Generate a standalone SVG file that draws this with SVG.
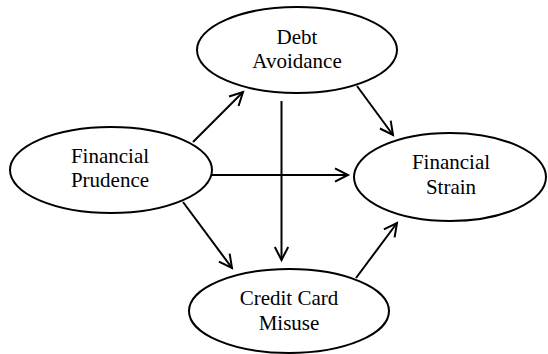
<svg xmlns="http://www.w3.org/2000/svg" width="548" height="354" viewBox="0 0 548 354">
<style>
.node ellipse{fill:#fff;stroke:#000;stroke-width:2}
.node text{font-family:"Liberation Serif","Times New Roman",serif;font-size:21px;fill:#000;text-anchor:middle}
.edges line{stroke:#000;stroke-width:2;fill:none;marker-end:url(#arr)}
</style>
<defs>
<marker id="arr" markerUnits="userSpaceOnUse" markerWidth="18" markerHeight="18" viewBox="0 0 18 18" refX="15" refY="9" orient="auto">
<path d="M2,2.3 L15,9 L2,15.7" fill="none" stroke="#000" stroke-width="2"/>
</marker>
</defs>
<rect width="548" height="354" fill="#fff"/>
<g class="edges">
<line x1="193" y1="142" x2="243" y2="92"/>
<line x1="281.5" y1="101" x2="281.5" y2="260"/>
<line x1="357" y1="86" x2="393" y2="135"/>
<line x1="211" y1="175" x2="348" y2="175"/>
<line x1="183" y1="202" x2="232" y2="268"/>
<line x1="356" y1="278" x2="397" y2="223"/>
</g>
<g id="debt" class="node">
<ellipse cx="297" cy="50" rx="100" ry="43"/>
<text x="297" y="44">Debt</text>
<text x="297" y="68">Avoidance</text>
</g>
<g id="prudence" class="node">
<ellipse cx="111" cy="170" rx="101" ry="43"/>
<text x="110" y="163">Financial</text>
<text x="110" y="187">Prudence</text>
</g>
<g id="strain" class="node">
<ellipse cx="450" cy="177" rx="96" ry="44"/>
<text x="451" y="169">Financial</text>
<text x="451" y="194">Strain</text>
</g>
<g id="misuse" class="node">
<ellipse cx="289" cy="311" rx="100" ry="42"/>
<text x="289" y="305">Credit Card</text>
<text x="289" y="330">Misuse</text>
</g>
</svg>
